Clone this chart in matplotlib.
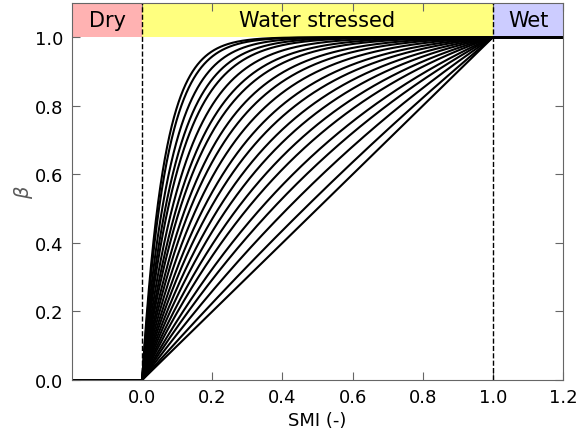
import numpy as np
import matplotlib
matplotlib.use("Agg")
import matplotlib.pyplot as plt

# Curvature parameters of the stress curves
# beta = (1 - exp(-c*SMI)) / (1 - exp(-c)); c = 0 is the straight line
curvatures = [0.0, 0.3, 0.7, 1.07, 1.4, 1.8, 2.15, 2.55, 2.95, 3.4, 3.85,
              4.4, 5.0, 5.6, 6.4, 7.1, 8.1, 9.4, 10.5, 12.1, 14.4, 16.0]

# Regimes along the SMI axis
regions = ["Dry", "Water stressed", "Wet"]
region_bounds = [(-0.2, 0.0), (0.0, 1.0), (1.0, 1.2)]
region_colors = [(1.0, 0.0, 0.0, 0.3), (1.0, 1.0, 0.0, 0.5), (0.0, 0.0, 1.0, 0.2)]

xticks = [0.0, 0.2, 0.4, 0.6, 0.8, 1.0, 1.2]
yticks = [0.0, 0.2, 0.4, 0.6, 0.8, 1.0]

plt.rcParams['font.family'] = 'DejaVu Sans'
plt.rcParams['mathtext.fontset'] = 'dejavusans'
plt.rcParams['xtick.direction'] = 'in'
plt.rcParams['ytick.direction'] = 'in'

fig = plt.figure(figsize=(5.8, 4.35), dpi=100)
ax = fig.add_axes([0.124, 0.124, 0.847, 0.867])

smi = np.linspace(-0.2, 1.2, 2801)
s = np.clip(smi, 0.0, 1.0)
for c in curvatures:
    if c == 0:
        beta = s
    else:
        beta = (1.0 - np.exp(-c * s)) / (1.0 - np.exp(-c))
    ax.plot(smi, beta, color='black', lw=1.5)

for name, (x0, x1), col in zip(regions, region_bounds, region_colors):
    ax.fill_between([x0, x1], 1.0, 1.1, color=col, lw=0)
    ax.text((x0 + x1) / 2, 1.05, name, ha='center', va='center', fontsize=15)

for xv in (0.0, 1.0):
    ax.plot([xv, xv], [0.0, 1.1], color='black', ls='--', lw=1)

ax.set_xlim(-0.2, 1.2)
ax.set_ylim(0.0, 1.1)
ax.set_xticks(xticks)
ax.set_yticks(yticks)
ax.tick_params(labelsize=13, top=True, right=True, length=6, color='0.4', pad=6)
for sp in ax.spines.values():
    sp.set_color('0.4')
ax.set_xlabel('SMI (-)', fontsize=13, labelpad=3)
ax.set_ylabel(r'$\beta$', fontsize=14, labelpad=0, color='0.35')

fig.savefig('out.png', dpi=100)
